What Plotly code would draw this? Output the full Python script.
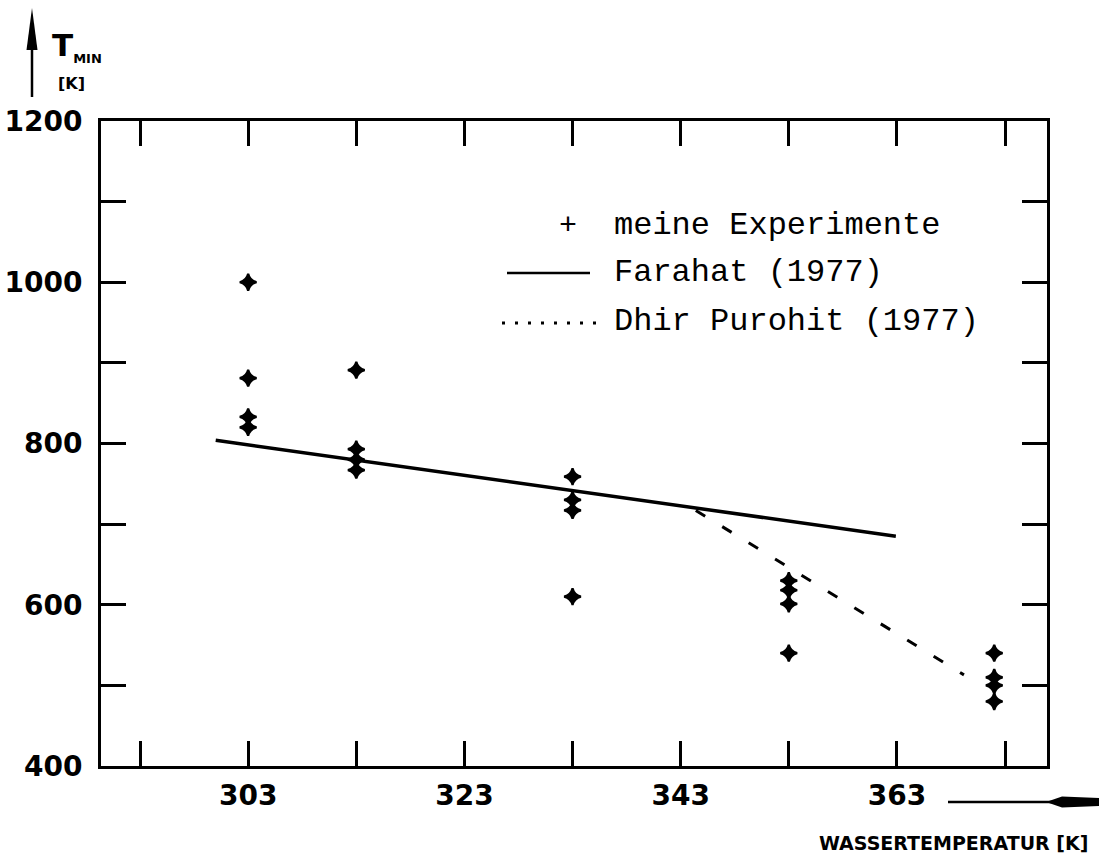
import plotly.graph_objects as go

# ---------------- data ----------------
exp_water_temp = [303, 303, 303, 303,
                  313, 313, 313, 313,
                  333, 333, 333, 333,
                  353, 353, 353, 353,
                  372, 372, 372, 372]
exp_t_min = [1000, 881, 833, 820,
             891, 793, 780, 767,
             759, 730, 717, 610,
             630, 618, 601, 540,
             540, 510, 500, 480]

farahat_water_temp = [300.0, 362.9]
farahat_t_min = [804, 685]

dhir_water_temp = [344.4, 369.2]
dhir_t_min = [717, 513]

x_tick_vals = [303, 323, 343, 363]
x_tick_text = ["303", "323", "343", "363"]
x_minor_vals = [293, 313, 333, 353, 373]
y_tick_vals = [400, 600, 800, 1000, 1200]
y_tick_text = ["400", "600", "800", "1000", "1200"]
y_minor_vals = [500, 700, 900, 1100]

legend_labels = ["meine Experimente", "Farahat (1977)", "Dhir Purohit (1977)"]
x_title = "WASSERTEMPERATUR [K]"
y_title_main = "T"
y_title_sub = "MIN"
y_title_unit = "[K]"

# ---------------- layout geometry ----------------
W, H = 1099, 853
ML, MR, MT, MB = 101, 52, 121, 87
PW, PH = W - ML - MR, H - MT - MB


def px(xp):
    return (xp - ML) / PW


def py(yp):
    return (H - MB - yp) / PH


fig = go.Figure()

fig.add_trace(go.Scatter(
    x=farahat_water_temp, y=farahat_t_min, mode="lines",
    line=dict(color="black", width=3.5), name=legend_labels[1], showlegend=False))

fig.add_trace(go.Scatter(
    x=dhir_water_temp, y=dhir_t_min, mode="lines",
    line=dict(color="black", width=3, dash="11px,20px"), name=legend_labels[2], showlegend=False))

fig.add_trace(go.Scatter(
    x=exp_water_temp, y=exp_t_min, mode="markers",
    marker=dict(symbol="star-diamond", size=12, color="black",
                line=dict(width=2.2, color="black")),
    name=legend_labels[0], showlegend=False))

axis_common = dict(
    showline=True, linewidth=3, linecolor="black", mirror="ticks",
    ticks="inside", ticklen=25, tickwidth=2.5, tickcolor="black",
    showgrid=False, zeroline=False, automargin=False,
    tickfont=dict(family="DejaVu Sans", size=28, color="black", weight="bold"),
)

fig.update_xaxes(range=[289.39, 376.88], tickmode="array",
                 tickvals=x_tick_vals, ticktext=x_tick_text,
                 minor=dict(tickmode="array", tickvals=x_minor_vals, ticks="inside",
                            ticklen=25, tickwidth=2.5, tickcolor="black", showgrid=False),
                 ticklabelstandoff=2, **axis_common)
fig.update_yaxes(range=[400, 1200], tickmode="array",
                 tickvals=y_tick_vals, ticktext=y_tick_text,
                 minor=dict(tickmode="array", tickvals=y_minor_vals, ticks="inside",
                            ticklen=25, tickwidth=2.5, tickcolor="black", showgrid=False),
                 ticklabelstandoff=10, **axis_common)

mono = dict(family="Liberation Mono", size=32, color="black")
bold = lambda s: dict(family="DejaVu Sans", size=s, color="black", weight="bold")

y_title_html = (f"{y_title_main}<sub><span style='font-size:13px'>{y_title_sub}</span></sub>")

annotations = [
    # legend
    dict(x=px(568), y=py(226), text="+", font=dict(family="Liberation Mono", size=30, color="black"),
         xanchor="center", yanchor="middle"),
    dict(x=px(612), y=py(225), text=legend_labels[0], font=mono, xanchor="left", yanchor="middle"),
    dict(x=px(612), y=py(272), text=legend_labels[1], font=mono, xanchor="left", yanchor="middle"),
    dict(x=px(612), y=py(321), text=legend_labels[2], font=mono, xanchor="left", yanchor="middle"),
    # axis titles
    dict(x=px(953), y=py(843), text=x_title, font=bold(19), xanchor="center", yanchor="middle"),
    dict(x=px(50), y=py(46), text=y_title_html, font=bold(31), xanchor="left", yanchor="middle"),
    dict(x=px(71.5), y=py(83), text=y_title_unit, font=bold(16), xanchor="center", yanchor="middle"),
]
for a in annotations:
    a.update(xref="paper", yref="paper", showarrow=False)

shapes = [
    # legend samples
    dict(type="line", x0=px(507), x1=px(590), y0=py(273), y1=py(273),
         line=dict(color="black", width=2.5)),
    dict(type="line", x0=px(502), x1=px(598), y0=py(323), y1=py(323),
         line=dict(color="black", width=3, dash="3px,10px")),
    # x-axis direction arrow
    dict(type="line", x0=px(948), x1=px(1060), y0=py(802), y1=py(802),
         line=dict(color="black", width=2.5)),
    dict(type="path",
         path=f"M {px(1046)},{py(802)} L {px(1062)},{py(796.5)} L {px(1099)},{py(798)} "
              f"L {px(1099)},{py(806)} L {px(1062)},{py(807.5)} Z",
         fillcolor="black", line=dict(width=0)),
    # y-axis direction arrow
    dict(type="line", x0=px(32), x1=px(32), y0=py(97), y1=py(40),
         line=dict(color="black", width=2.5)),
    dict(type="path",
         path=f"M {px(32)},{py(8)} L {px(26.5)},{py(50)} L {px(37.5)},{py(50)} Z",
         fillcolor="black", line=dict(width=0)),
]
for s in shapes:
    s.update(xref="paper", yref="paper")

fig.update_layout(
    width=W, height=H,
    margin=dict(l=ML, r=MR, t=MT, b=MB, pad=0, autoexpand=False),
    paper_bgcolor="white", plot_bgcolor="white",
    showlegend=False,
    annotations=annotations,
    shapes=shapes,
)

fig.write_html("out.html")
